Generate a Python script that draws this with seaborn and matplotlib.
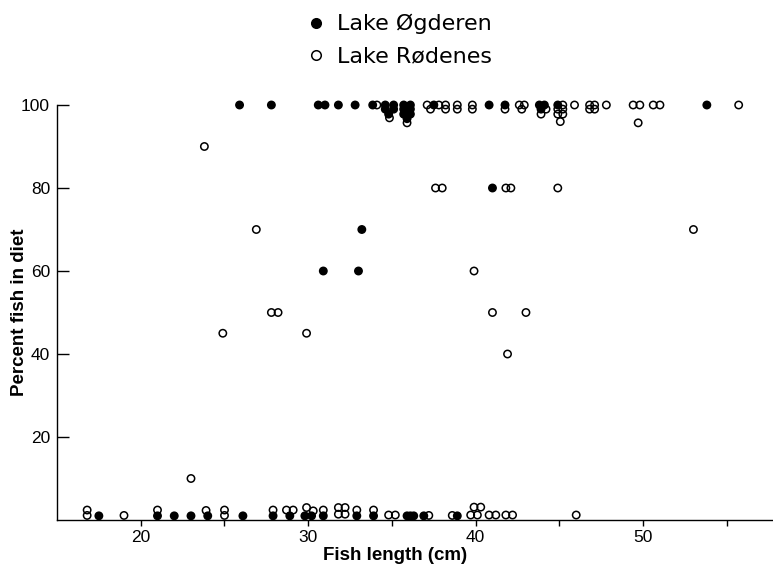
import matplotlib
matplotlib.use('Agg')
import matplotlib.pyplot as plt
import seaborn as sns
import pandas as pd

# Lake Øgderen (filled circles)
ogderen_length = [
    25.9, 27.8, 30.6, 31.0, 31.8, 32.8, 33.85,
    34.6, 35.1, 34.6, 35.1, 34.8,
    35.7, 36.1, 35.7, 36.1, 35.7, 36.1, 35.9,
    37.5, 40.8, 41.75, 43.8, 44.1, 43.9, 44.9, 53.8,
    41.0, 33.2, 30.9, 33.0,
    17.5, 21.0, 22.0, 23.0, 24.0, 26.1, 27.9, 28.9, 29.8, 30.2,
    30.9, 32.9, 33.9, 35.9, 36.1, 36.3, 36.9, 38.9,
]
ogderen_percent = [
    100, 100, 100, 100, 100, 100, 100,
    100, 100, 99, 99, 97.8,
    100, 100, 99, 99, 97.8, 97.8, 96.7,
    100, 100, 100, 100, 100, 99, 100, 100,
    80, 70, 60, 60,
    1, 1, 1, 1, 1, 1, 1, 1, 1, 1,
    1, 1, 1, 1, 1, 1, 1, 1,
]

# Lake Rødenes (open circles)
rodenes_length = [
    34.1, 34.85, 35.9, 37.1, 37.8, 38.2, 37.3, 38.2, 38.9, 38.9,
    39.8, 39.8, 41.75, 42.6, 42.9, 42.75, 44.2, 43.9, 45.2, 44.9,
    45.2, 44.9, 45.2, 45.05, 45.9, 46.8, 47.1, 46.8, 47.1, 47.8,
    49.4, 49.8, 49.7, 50.6, 51.0, 55.7,
    23.8, 37.6, 38.0, 41.8, 42.1, 44.9, 26.9, 53.0, 39.9, 27.8,
    28.2, 41.0, 43.0, 24.9, 29.9, 41.9, 23.0,
    16.8, 16.8, 19.0, 21.0, 23.9, 25.0, 25.0, 27.9, 28.7, 29.1,
    29.9, 30.3, 30.9, 31.8, 32.2, 31.8, 32.2, 32.9, 33.9, 34.8,
    35.2, 37.2, 38.6, 39.7, 40.1, 39.9, 40.3, 40.8, 41.2, 41.8,
    42.2, 46.0,
]
rodenes_percent = [
    100, 96.9, 95.7, 100, 100, 100, 99, 99, 100, 99,
    100, 99, 99, 100, 100, 99, 99, 97.8, 100, 99,
    99, 97.8, 97.8, 96, 100, 100, 100, 99, 99, 100,
    100, 100, 95.7, 100, 100, 100,
    90, 80, 80, 80, 80, 80, 70, 70, 60, 50,
    50, 50, 50, 45, 45, 40, 10,
    2.4, 1.1, 1.1, 2.4, 2.3, 2.4, 1.1, 2.4, 2.4, 2.4,
    3.0, 2.2, 2.4, 3.0, 3.0, 1.4, 1.4, 2.4, 2.4, 1.2,
    1.2, 1.1, 1.1, 1.2, 1.2, 3.1, 3.1, 1.2, 1.2, 1.2,
    1.2, 1.2,
]

lakes = ['Lake Øgderen', 'Lake Rødenes']

df = pd.concat([
    pd.DataFrame({'length': ogderen_length, 'percent': ogderen_percent, 'lake': lakes[0]}),
    pd.DataFrame({'length': rodenes_length, 'percent': rodenes_percent, 'lake': lakes[1]}),
], ignore_index=True)

sns.set_style('ticks')
plt.rcParams['font.family'] = ['Liberation Sans', 'DejaVu Sans']
plt.rcParams['text.color'] = 'black'
plt.rcParams['axes.labelcolor'] = 'black'

fig = plt.figure(figsize=(7.73, 5.67), dpi=100)
ax = fig.add_axes([57 / 773, 47 / 567, 716 / 773, 415 / 567])

sns.scatterplot(
    data=df, x='length', y='percent', hue='lake', hue_order=lakes,
    palette={lakes[0]: 'black', lakes[1]: 'none'},
    edgecolor='black', linewidth=1.1, s=28, clip_on=False, ax=ax,
)

ax.set_xlim(15, 57.75)
ax.set_ylim(0, 100)
ax.set_xticks([20, 30, 40, 50])
ax.set_xticks([25, 35, 45, 55], minor=True)
ax.set_yticks([20, 40, 60, 80, 100])
ax.tick_params(axis='x', which='both', direction='out', length=4, width=1,
               labelsize=12.5, pad=3, color='black', labelcolor='black')
ax.tick_params(axis='y', direction='in', length=8.5, width=1,
               labelsize=12.5, pad=5, color='black', labelcolor='black')
sns.despine(ax=ax)
for side in ['left', 'bottom']:
    ax.spines[side].set_linewidth(1.0)
    ax.spines[side].set_color('black')

ax.set_xlabel('Fish length (cm)', fontsize=13.5, fontweight='bold', color='black')
ax.set_ylabel('Percent fish in diet', fontsize=13.5, fontweight='bold', color='black')
ax.xaxis.set_label_coords(0.472, -0.066)
ax.yaxis.set_label_coords(-0.040, 0.5)

sns.move_legend(
    ax, 'center', bbox_to_anchor=(0.515, 0.929), bbox_transform=fig.transFigure,
    frameon=False, title=None, markerscale=1.3,
    handlelength=1.0, handletextpad=0.45, labelspacing=0.55,
    prop={'family': 'DejaVu Sans', 'size': 16}, labelcolor='black',
)

plt.savefig('out.png', dpi=100)
plt.close()
